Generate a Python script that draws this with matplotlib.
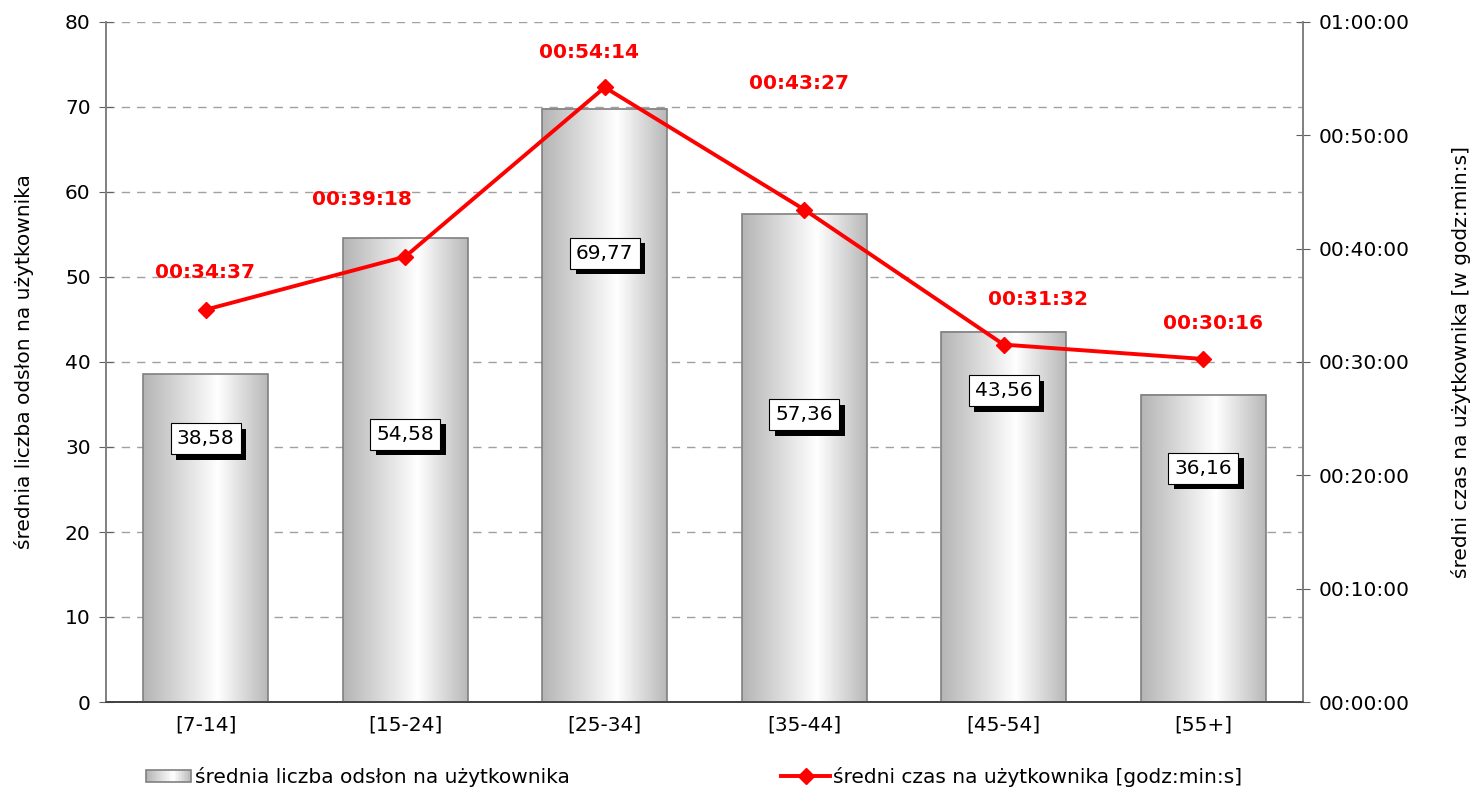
import matplotlib
matplotlib.use("Agg")
import matplotlib.pyplot as plt
import matplotlib.patheffects as pe
import numpy as np
from matplotlib.patches import Rectangle
from matplotlib.legend_handler import HandlerBase
from matplotlib.lines import Line2D
from matplotlib.colors import LinearSegmentedColormap

plt.rcParams['font.family'] = ['DejaVu Sans']

categories = ['[7-14]', '[15-24]', '[25-34]', '[35-44]', '[45-54]', '[55+]']
pageviews = [38.58, 54.58, 69.77, 57.36, 43.56, 36.16]
time_labels = ['00:34:37', '00:39:18', '00:54:14', '00:43:27', '00:31:32', '00:30:16']
bar_label_y = [31.0, 31.5, 52.8, 33.8, 36.6, 27.5]
time_label_offsets = [(-1, 37), (-43, 57), (-16, 35), (-5, 126), (34, 45), (10, 35)]
right_ticks = ['00:00:00', '00:10:00', '00:20:00', '00:30:00', '00:40:00', '00:50:00', '01:00:00']

FS = 14.5


def to_sec(s):
    h, m, sec = map(int, s.split(':'))
    return h * 3600 + m * 60 + sec


times = [to_sec(t) for t in time_labels]

cmap = LinearSegmentedColormap.from_list(
    'g', [(0.0, '#b4b4b4'), (0.6, '#ffffff'), (1.0, '#b8b8b8')])
grad = np.linspace(0, 1, 256).reshape(1, -1)

fig = plt.figure(figsize=(14.72, 7.9), dpi=100)
ax = fig.add_axes([106 / 1472, 1 - 702 / 790, (1303 - 106) / 1472, (702 - 22) / 790])
ax2 = ax.twinx()

x = np.arange(len(categories))
bw = 0.625
for xi, v in zip(x, pageviews):
    ax.imshow(grad, cmap=cmap, aspect='auto', extent=(xi - bw / 2, xi + bw / 2, 0, v),
              zorder=2, interpolation='bilinear')
    ax.add_patch(Rectangle((xi - bw / 2, 0), bw, v, fill=False, edgecolor='#808080',
                           linewidth=1.2, zorder=3))
ax.set_xlim(-0.5, len(categories) - 0.5)
ax.set_ylim(0, 80)

for xi, v, ly in zip(x, pageviews, bar_label_y):
    t = ax.text(xi, ly, f'{v:.2f}'.replace('.', ','), ha='center', va='center', fontsize=FS,
                zorder=6,
                bbox=dict(boxstyle='square,pad=0.3', facecolor='white', edgecolor='black',
                          linewidth=0.8))
    t.get_bbox_patch().set_path_effects([
        pe.SimplePatchShadow(offset=(4, -4), shadow_rgbFace='black', alpha=1.0), pe.Normal()])

ax.set_yticks(range(0, 81, 10))
ax.yaxis.grid(True, linestyle=(0, (6, 5)), color='#a0a0a0', linewidth=1)
ax.set_axisbelow(True)
ax.set_xticks(x)
ax.set_xticklabels(categories, fontsize=FS)
ax.tick_params(axis='x', length=0, pad=10)
ax.tick_params(axis='y', direction='inout', length=10, labelsize=FS, color='#606060', pad=6)
ax.set_ylabel('średnia liczba odsłon na użytkownika', fontsize=FS, labelpad=22)

ax2.plot(x, times, color='#ff0000', linewidth=2.8, marker='D', markersize=8, zorder=7)
ax2.set_ylim(0, 3600)
ax2.set_yticks(range(0, 3601, 600))
ax2.set_yticklabels(right_ticks)
ax2.tick_params(axis='y', direction='inout', length=10, labelsize=FS, color='#606060', pad=6)
ax2.set_ylabel('średni czas na użytkownika [w godz:min:s]', fontsize=FS, labelpad=30)
for xi, tm, lab, off in zip(x, times, time_labels, time_label_offsets):
    ax2.annotate(lab, (xi, tm), xytext=(off[0] * 0.72, off[1] * 0.72), textcoords='offset points',
                 ha='center', va='center', color='#ff0000', fontsize=FS, fontweight='bold')

for a in (ax, ax2):
    a.spines['top'].set_visible(False)
    a.spines['left'].set_color('#808080')
    a.spines['right'].set_color('#808080')
    a.spines['bottom'].set_color('#404040')
    for s in ('left', 'right', 'bottom'):
        a.spines[s].set_linewidth(1.2)
ax.patch.set_visible(False)
ax2.set_zorder(ax.get_zorder() + 1)
ax2.patch.set_visible(False)


class GradHandler(HandlerBase):
    def create_artists(self, legend, orig_handle, xdescent, ydescent, width, height, fontsize, trans):
        arts = []
        n = 30
        for i in range(n):
            c = cmap((i + 0.5) / n)
            arts.append(Rectangle((-xdescent + width * i / n, -ydescent), width / n, height,
                                  facecolor=c, edgecolor='none', transform=trans))
        arts.append(Rectangle((-xdescent, -ydescent), width, height, fill=False,
                              edgecolor='#808080', linewidth=1.2, transform=trans))
        return arts


bar_handle = Rectangle((0, 0), 1, 1)
leg1 = fig.legend([bar_handle], ['średnia liczba odsłon na użytkownika'],
                  handler_map={Rectangle: GradHandler()}, loc='center left',
                  bbox_to_anchor=(128 / 1472, 1 - 777 / 790), frameon=False, fontsize=FS,
                  handlelength=2.25, handleheight=0.6, handletextpad=0.2)
line_handle = Line2D([], [], color='#ff0000', linewidth=2.8, marker='D', markersize=8)
leg2 = fig.legend([line_handle], ['średni czas na użytkownika [godz:min:s]'], loc='center left',
                  bbox_to_anchor=(763 / 1472, 1 - 777 / 790), frameon=False, fontsize=FS,
                  handlelength=2.45, handletextpad=0.15)

fig.savefig('out.png', dpi=100)
